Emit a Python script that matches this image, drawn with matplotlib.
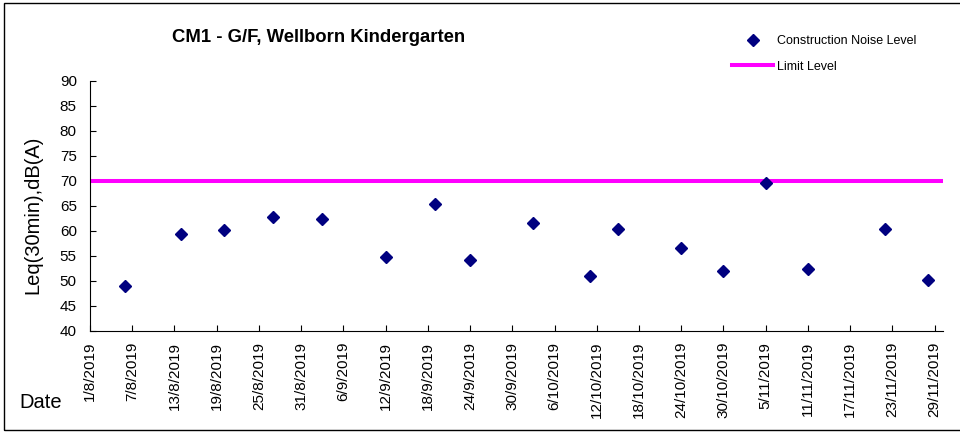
import pandas as pd
import matplotlib
matplotlib.use('Agg')
import matplotlib.pyplot as plt
import matplotlib.dates as mdates
from matplotlib.patches import Rectangle
from matplotlib.ticker import FuncFormatter

# Measured construction noise, Leq(30min) dB(A)
dates = ['2019-08-06', '2019-08-14', '2019-08-20', '2019-08-27', '2019-09-03',
         '2019-09-12', '2019-09-19', '2019-09-24', '2019-10-03', '2019-10-11',
         '2019-10-15', '2019-10-24', '2019-10-30', '2019-11-05', '2019-11-11',
         '2019-11-22', '2019-11-28']
noise = [49.0, 59.3, 60.1, 62.7, 62.3,
         54.7, 65.4, 54.1, 61.5, 50.9,
         60.3, 56.5, 51.9, 69.5, 52.3,
         60.3, 50.1]
limit = 70

title = 'CM1 - G/F, Wellborn Kindergarten'
x_start = '2019-08-01'
x_last_tick = '2019-11-29'

plt.rcParams['font.family'] = ['Liberation Sans', 'DejaVu Sans']

fig = plt.figure(figsize=(9.6, 4.32), dpi=100)
ax = fig.add_axes([90 / 960, 1 - 330.7 / 432, 853 / 960, 250 / 432])

x = mdates.date2num(pd.to_datetime(dates))
ax.plot(x, noise, linestyle='none', marker='D', markersize=6,
        color='#000080', label='Construction Noise Level', zorder=3)
ax.axhline(limit, color='#FF00FF', linewidth=2.9, label='Limit Level', zorder=2)

# x axis: a date every 6 days
ticks = pd.date_range(x_start, x_last_tick, freq='6D')
tick_num = mdates.date2num(ticks)
ax.set_xticks(tick_num)
ax.xaxis.set_major_formatter(FuncFormatter(
    lambda v, pos: '{d.day}/{d.month}/{d.year}'.format(d=mdates.num2date(v))))
ax.set_xlim(tick_num[0], tick_num[0] + 121.2)
ax.tick_params(axis='x', labelrotation=90, direction='in', length=4,
               width=0.8, pad=8, labelsize=11)

ax.set_ylim(40, 90)
ax.set_yticks(range(40, 91, 5))
ax.tick_params(axis='y', direction='in', length=4, width=0.8, pad=9.5,
               labelsize=11)

for side in ['top', 'right']:
    ax.spines[side].set_visible(False)
for side in ['left', 'bottom']:
    ax.spines[side].set_linewidth(0.8)

fig.text(33 / 960, 1 - 215 / 432, 'Leq(30min),dB(A)', rotation=90,
         ha='center', va='center', fontsize=14.5)
fig.text(19 / 960, 1 - 408 / 432, 'Date', ha='left', va='baseline',
         fontsize=14.5)
fig.text(319 / 960, 1 - 41.7 / 432, title, ha='center', va='baseline',
         fontsize=13.3, fontweight='bold')

fig.legend(loc='upper left', bbox_to_anchor=(732 / 960, 1 - 35 / 432),
           frameon=False, fontsize=9, handlelength=3.3, handletextpad=0.32,
           labelspacing=1.1, borderpad=0, borderaxespad=0)

# outer chart border
fig.add_artist(Rectangle((4 / 960, 2 / 432), 1.0, 1 - 4.5 / 432,
                         transform=fig.transFigure, fill=False,
                         edgecolor='black', linewidth=1.0))

fig.savefig('out.png', dpi=100)
